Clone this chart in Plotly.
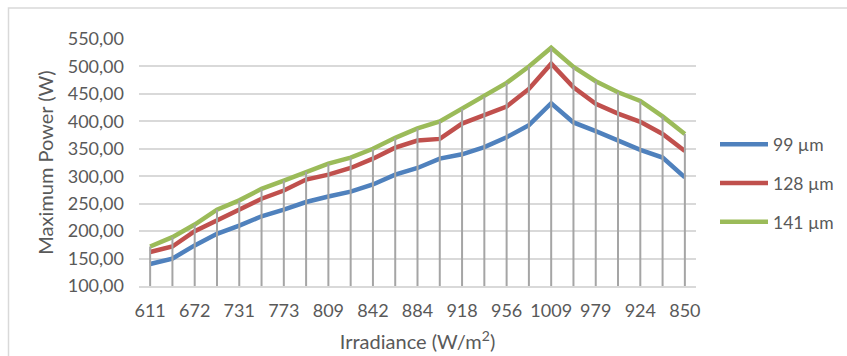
import plotly.graph_objects as go

# Irradiance categories (W/m2); only every other one is labelled on the axis
irradiance = ["611", "642", "672", "702", "731", "752", "773", "791", "809", "826",
              "842", "863", "884", "901", "918", "937", "956", "983", "1009", "994",
              "979", "952", "924", "887", "850"]
labelled = ["611", "672", "731", "773", "809", "842", "884", "918", "956", "1009",
            "979", "924", "850"]

p99 = [140, 150, 174, 195, 210, 227, 239, 253, 263, 272, 285, 303, 315, 332, 340,
       353, 371, 393, 433, 398, 382, 364, 348, 334, 298]
p128 = [162, 172, 200, 220, 238, 259, 274, 294, 303, 315, 332, 352, 365, 368, 396,
        411, 427, 459, 505, 462, 432, 414, 399, 377, 346]
p141 = [172, 189, 212, 239, 256, 277, 292, 308, 323, 334, 350, 370, 387, 400, 423,
        445, 470, 500, 534, 499, 473, 453, 437, 409, 377]

series = [("99 µm", p99, "#4F81BD"), ("128 µm", p128, "#C0504D"), ("141 µm", p141, "#9BBB59")]

y_min, y_max = 100, 550

fig = go.Figure()
for i, (name, vals, col) in enumerate(series):
    fig.add_trace(go.Scatter(x=irradiance, y=vals, mode="lines", name=name,
                             legendgroup=f"g{i}",
                             line=dict(color=col, width=4.5)))

# drop lines from the highest series to the axis
dx, dy = [], []
for c, a, b, g in zip(irradiance, p99, p128, p141):
    dx += [c, c, None]
    dy += [y_min, max(a, b, g), None]
fig.add_trace(go.Scatter(x=dx, y=dy, mode="lines", showlegend=False,
                         line=dict(color="#A5A5A5", width=2), hoverinfo="skip"))

font_col = "#595959"
fig.update_layout(
    width=847, height=356,
    margin=dict(l=139, r=151, t=39, b=70, autoexpand=False),
    paper_bgcolor="white", plot_bgcolor="white",
    separators=",.",
    font=dict(family="Lato", size=18, color=font_col),
    showlegend=True,
    legend=dict(x=(715 - 139) / 557, xanchor="left", y=0.415, yanchor="middle",
                font=dict(size=17.5, color=font_col), tracegroupgap=13,
                itemwidth=48, bgcolor="rgba(0,0,0,0)"),
    xaxis=dict(type="category", categoryorder="array", categoryarray=irradiance,
               tickmode="array", tickvals=labelled, ticktext=labelled,
               range=[-0.5, len(irradiance) - 0.5], automargin=False,
               showgrid=False, showline=True, linecolor="#D9D9D9", linewidth=1.5,
               ticks="", ticklabelstandoff=8, tickfont=dict(size=18, color=font_col),
               title=dict(text="Irradiance (W/m<sup>2</sup>)", standoff=15,
                          font=dict(size=20, color=font_col))),
    yaxis=dict(range=[y_min, y_max], dtick=50, tick0=0, tickformat=".2f",
               showgrid=True, gridcolor="#D9D9D9", gridwidth=1.5, automargin=False,
               zeroline=False, showline=False, ticks="", ticklabelstandoff=14,
               tickfont=dict(size=18, color=font_col),
               title=dict(text="Maximum Power (W)", standoff=8,
                          font=dict(size=20, color=font_col))),
    shapes=[dict(type="rect", xref="paper", yref="paper",
                 x0=(8.5 - 139) / 557, x1=1.4, y0=-0.5, y1=1 + (39 - 8) / 247,
                 line=dict(color="#D9D9D9", width=1.5), fillcolor="rgba(0,0,0,0)",
                 layer="below")],
)

fig.write_html("out.html")
